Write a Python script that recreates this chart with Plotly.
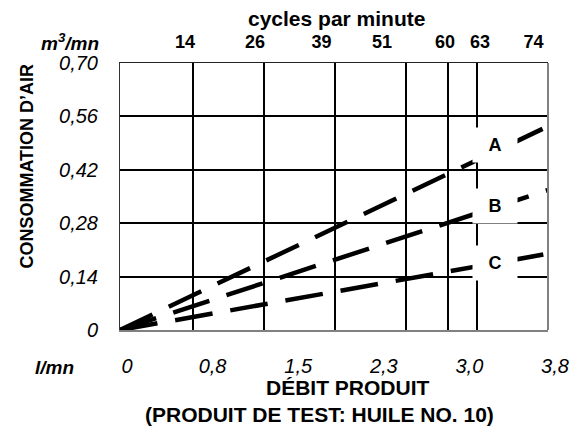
import plotly.graph_objects as go

# ---- data ----
flow_ticks = [0, 0.76, 1.52, 2.28, 3.04, 3.8]          # l/mn
flow_labels = ["0", "0,8", "1,5", "2,3", "3,0", "3,8"]
cycle_labels = ["14", "26", "39", "51", "60", "63", "74"]
cycle_label_flow = [0.577, 1.199, 1.789, 2.326, 2.886, 3.196, 3.671]   # flow position of label
cycle_grid_flow = [0.648, 1.278, 1.909, 2.539, 2.912, 3.170]           # flow position of grid line
air_ticks = [0, 0.14, 0.28, 0.42, 0.56, 0.70]
air_labels = ["0", "0,14", "0,28", "0,42", "0,56", "0,70"]

flow = [0, 3.8]
air_A = [0, 0.534]
air_B = [0, 0.367]
air_C = [0, 0.200]
series = [("A", air_A, 0.486, "36px,18px"), ("B", air_B, 0.325, "38px,18px"), ("C", air_C, 0.176, "38px,18px")]
label_flow = 3.33

FONT = "Arial, Liberation Sans, sans-serif"

fig = go.Figure()
for name, vals, ly, dash in series:
    fig.add_trace(go.Scatter(x=flow, y=vals, mode="lines", name=name,
                             line=dict(color="black", width=4.5, dash=dash),
                             showlegend=False, hoverinfo="skip"))
# invisible helpers so the overlaying axes are created
fig.add_trace(go.Scatter(x=[0, 3.8], y=[0, 0], xaxis="x2", mode="none", showlegend=False, hoverinfo="skip"))
fig.add_trace(go.Scatter(x=[0, 3.8], y=[0, 0], xaxis="x3", mode="none", showlegend=False, hoverinfo="skip"))

annotations = []
for name, vals, ly, dash in series:
    annotations.append(dict(x=label_flow, y=ly, xref="x", yref="y", text=name, showarrow=False,
                            bgcolor="white", width=44, height=34, borderpad=0,
                            font=dict(family=FONT, size=18, color="black", weight="bold")))

annotations += [
    dict(x=-0.045, y=1.079, xref="paper", yref="paper", xanchor="right", yanchor="middle",
         text="m<sup>3</sup>/mn", showarrow=False,
         font=dict(family=FONT, size=19, color="black", weight="bold", style="italic")),
    dict(x=-0.152, y=-0.139, xref="paper", yref="paper", xanchor="center", yanchor="middle",
         text="l/mn", showarrow=False,
         font=dict(family=FONT, size=19, color="black", weight="bold", style="italic")),
    dict(x=0.507, y=1.165, xref="paper", yref="paper", xanchor="center", yanchor="middle",
         text="cycles par minute", showarrow=False,
         font=dict(family=FONT, size=21, color="black", weight="bold")),
    dict(x=-0.216, y=0.614, xref="paper", yref="paper", xanchor="center", yanchor="middle",
         text="CONSOMMATION D’AIR", textangle=-90, showarrow=False,
         font=dict(family=FONT, size=18, color="black", weight="bold")),
    dict(x=0.533, y=-0.217, xref="paper", yref="paper", xanchor="center", yanchor="middle",
         text="DÉBIT PRODUIT", showarrow=False,
         font=dict(family=FONT, size=21, color="black", weight="bold")),
    dict(x=0.467, y=-0.315, xref="paper", yref="paper", xanchor="center", yanchor="middle",
         text="(PRODUIT DE TEST: HUILE NO. 10)", showarrow=False,
         font=dict(family=FONT, size=21, color="black", weight="bold")),
]

fig.update_layout(
    width=582, height=432,
    margin=dict(l=120, r=34, t=63, b=102),
    paper_bgcolor="white", plot_bgcolor="white",
    xaxis=dict(range=[0, 3.8], tickmode="array", tickvals=flow_ticks, ticktext=flow_labels,
               showgrid=False, zeroline=False, showline=True, linecolor="#808080", linewidth=2,
               ticks="", ticklabelstandoff=17, ticklabelshift=7,
               tickfont=dict(family=FONT, size=20, color="black", style="italic")),
    xaxis2=dict(range=[0, 3.8], overlaying="x", side="top", anchor="y",
                tickmode="array", tickvals=cycle_grid_flow, showticklabels=False,
                showgrid=True, gridcolor="black", gridwidth=2, zeroline=False,
                showline=True, linecolor="#222222", linewidth=1, ticks=""),
    xaxis3=dict(range=[0, 3.8], overlaying="x", side="top", anchor="y",
                tickmode="array", tickvals=cycle_label_flow, ticktext=cycle_labels,
                showgrid=False, zeroline=False, showline=False, ticks="",
                ticklabelstandoff=10,
                tickfont=dict(family=FONT, size=18, color="black", weight="bold")),
    yaxis=dict(range=[0, 0.70], tickmode="array", tickvals=air_ticks, ticktext=air_labels,
               showgrid=True, gridcolor="black", gridwidth=2, zeroline=False,
               showline=True, linecolor="#333333", linewidth=1, ticks="",
               ticklabelstandoff=17,
               tickfont=dict(family=FONT, size=20, color="black", style="italic")),
    shapes=[dict(type="line", xref="x domain", yref="y domain", x0=1, x1=1, y0=0, y1=1,
                 line=dict(color="#808080", width=2))],
    annotations=annotations,
)

fig.write_html("out.html", config={"displayModeBar": False},
               post_script="document.body.style.margin='0';document.body.style.padding='0';")
